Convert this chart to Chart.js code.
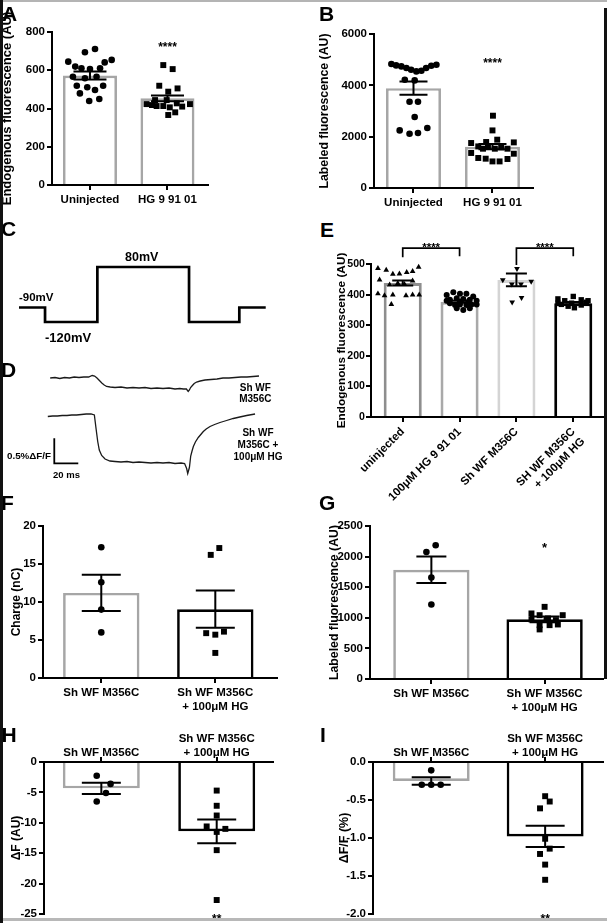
<!DOCTYPE html>
<html><head><meta charset="utf-8">
<script src="https://cdn.jsdelivr.net/npm/chart.js"></script>
<style>
html,body{margin:0;padding:0;background:#fff;}
#fig{position:relative;width:607px;height:923px;overflow:hidden;background:#fff;font-family:"Liberation Sans",Arial,Helvetica,sans-serif;font-weight:bold;color:#000;}
#fig canvas{position:absolute;}
.t{position:absolute;white-space:nowrap;line-height:1;}
.fr{position:absolute;}
</style></head><body><div id="fig"></div>
<script>
// ================= DATA =================
// Panel A
const catsAB = ['Uninjected', 'HG 9 91 01'];
const yTicksA = [0, 200, 400, 600, 800];
const aMeans = [572, 453];
const aSems = [21, 15];
const aUninjected = [645, 694, 711, 641, 654, 619, 610, 606, 610, 566, 558, 566, 519, 511, 519, 479, 497, 439, 450];
const aUninjectedJitter = [-0.28, -0.065, 0.065, 0.19, 0.28, -0.19, -0.11, 0, 0.13, -0.22, -0.065, 0.085, -0.17, -0.035, 0.17, -0.13, 0.065, -0.01, 0.12];
const aHG = [627, 606, 519, 488, 505, 423, 418, 413, 413, 406, 427, 410, 423, 444, 444, 380, 366];
const aHGJitter = [-0.054, 0.067, -0.106, 0.01, 0.13, -0.27, -0.2, -0.14, -0.054, 0.03, 0.12, 0.19, 0.29, -0.01, -0.16, 0.1, 0.01];
// Panel B
const yTicksB = [0, 2000, 4000, 6000];
const bMeans = [3890, 1610];
const bSems = [260, 100];
const bUninjected = [4831, 4777, 4738, 4675, 4609, 4543, 4570, 4675, 4765, 4804, 4219, 4192, 3362, 3362, 2766, 2244, 2116, 2143, 2338];
const bUninjectedJitter = [-0.28, -0.22, -0.154, -0.09, -0.03, 0.036, 0.1, 0.16, 0.225, 0.29, -0.11, 0.015, -0.05, 0.057, 0.015, -0.175, -0.05, 0.057, 0.175];
const bHG = [2817, 2244, 1753, 1792, 1883, 1777, 1621, 1531, 1597, 1531, 1582, 1531, 1364, 1169, 1142, 1036, 1036, 1130, 1336];
const bHGJitter = [0.006, 0, -0.27, -0.08, 0.06, 0.27, -0.18, -0.12, -0.057, 0.03, 0.11, 0.19, -0.27, -0.18, -0.086, 0, 0.09, 0.19, 0.27];
// Panel C (voltage protocol)
const protocolTimeMs = [0, 21.7, 21.7, 65.3, 65.3, 141.7, 141.7, 183.6, 183.6, 205.6];
const protocolMv = [-90, -90, -120, -120, 80, 80, -120, -120, -90, -90];
// Panel D (fluorescence traces, % dF/F)
const traceTopMs = [26, 30, 34, 38, 42, 46, 50, 54, 58, 61, 63, 65, 67, 69, 71, 73, 76, 80, 85, 90, 95, 100, 105, 110, 115, 120, 125, 130, 134, 137, 139.5, 141, 142, 143, 144.5, 146, 148, 151, 155, 160, 165, 170, 175, 180, 185, 190, 195, 200];
const traceTopPct = [0.00, 0.01, -0.01, 0.01, 0.00, 0.02, 0.01, 0.02, 0.02, 0.05, 0.04, 0.00, -0.05, -0.10, -0.14, -0.17, -0.18, -0.19, -0.18, -0.20, -0.19, -0.20, -0.19, -0.21, -0.20, -0.21, -0.20, -0.22, -0.21, -0.22, -0.22, -0.27, -0.24, -0.19, -0.15, -0.11, -0.08, -0.06, -0.04, -0.03, -0.02, 0.00, 0.00, 0.01, 0.02, 0.02, 0.03, 0.04];
const traceHGMs = [24, 28, 32, 36, 40, 44, 48, 52, 56, 60, 62.8, 64.2, 65.6, 66.9, 68.9, 71.7, 75.8, 80, 85, 90, 95, 100, 105, 110, 115, 120, 125, 130, 135, 138, 139.7, 140.6, 142, 143.1, 144.2, 145.3, 147, 149.4, 151.5, 153.6, 156, 159.2, 163, 167.5, 173, 178.6, 184, 189.7, 196.7];
const traceHGPct = [-0.03, -0.02, -0.02, -0.01, -0.01, 0.00, 0.00, 0.01, 0.02, 0.02, 0.00, -0.27, -0.53, -0.70, -0.81, -0.88, -0.92, -0.93, -0.94, -0.93, -0.95, -0.94, -0.95, -0.96, -0.95, -0.96, -0.95, -0.97, -0.96, -0.97, -1.07, -1.17, -1.05, -0.82, -0.72, -0.63, -0.54, -0.45, -0.39, -0.33, -0.28, -0.23, -0.19, -0.15, -0.11, -0.07, -0.04, -0.01, 0.02];
const scaleBarMs = 20, scaleBarPct = 0.5, scaleBarAtMs = 29.4, scaleBarAtPct = -0.966;
// Panel E
const catsE = ['uninjected', '100\u03bcM HG 9 91 01', 'Sh WF M356C', ['SH WF M356C', '+ 100\u03bcM HG']];
const yTicksE = [0, 100, 200, 300, 400, 500];
const eMeans = [438, 377, 448, 372];
const eSems = [8, 4, 21, 4];
const eUninjected = [486, 480, 467, 468, 473, 476, 490, 448, 432, 437, 434, 445, 403, 397, 399, 397, 399, 399, 368];
const eUninjectedJitter = [-0.436, -0.29, -0.174, -0.058, 0.07, 0.174, 0.28, -0.407, -0.23, -0.087, 0.03, 0.174, -0.436, -0.32, -0.174, 0.058, 0.174, 0.29, -0.2];
const eHG = [399, 408, 403, 403, 394, 383, 388, 386, 383, 380, 372, 366, 368, 366, 368, 368, 355, 350, 355, 380, 377, 375];
const eHGJitter = [-0.227, -0.11, 0.007, 0.12, 0.24, -0.17, -0.05, 0.065, 0.18, 0.3, -0.17, -0.08, 0.007, 0.12, 0.21, 0.3, -0.05, 0.065, 0.18, -0.227, 0.007, 0.15];
const eSh = [485, 448, 434, 434, 443, 375, 390];
const eShJitter = [0.01, -0.24, -0.08, 0.08, 0.26, -0.075, 0.09];
const eShHG = [386, 380, 394, 383, 380, 368, 362, 357, 366, 375, 372, 372];
const eShHGJitter = [-0.27, -0.15, 0, 0.14, 0.26, -0.21, -0.09, 0.02, 0.14, 0.23, -0.27, -0.03];
// Panels F-I
const catsFGHI = ['Sh WF M356C', ['Sh WF M356C', '+ 100\u03bcM HG']];
const yTicksF = [0, 5, 10, 15, 20];
const fMeans = [11.2, 9.05];
const fSems = [2.4, 2.45];
const fSh = [17.2, 12.6, 9.0, 6.0];
const fShJitter = [0, 0, 0, 0];
const fShHG = [16.2, 17.1, 5.9, 5.7, 6.1, 3.3];
const fShHGJitter = [-0.04, 0.035, -0.08, 0, 0.076, 0];
const yTicksG = [0, 500, 1000, 1500, 2000, 2500];
const gMeans = [1785, 975];
const gSems = [218, 48];
const gSh = [2076, 2185, 1658, 1218];
const gShJitter = [-0.044, 0.038, 0, 0];
const gShHG = [1179, 1071, 1043, 1043, 989, 962, 973, 880, 880, 891, 810];
const gShHGJitter = [0, -0.116, -0.044, 0.16, 0.03, 0.1, -0.116, -0.044, 0.044, 0.117, -0.044];
const yTicksH = [-25, -20, -15, -10, -5, 0];
const hMeans = [-4.33, -11.4];
const hSems = [0.93, 1.95];
const hSh = [-2.25, -3.6, -5.1, -6.5];
const hShJitter = [-0.04, 0.08, 0.04, -0.04];
const hShHG = [-4.7, -7.2, -8.8, -10.6, -11.0, -11.5, -14.5, -22.7];
const hShHGJitter = [0, 0, 0, -0.087, 0.075, 0, 0, 0];
const yTicksI = [-2.0, -1.5, -1.0, -0.5, 0.0];
const iMeans = [-0.25, -0.98];
const iSems = [0.05, 0.14];
const iSh = [-0.11, -0.3, -0.3, -0.3];
const iShJitter = [0, -0.083, 0, 0.083];
const iShHG = [-0.45, -0.52, -0.61, -1.01, -1.14, -1.21, -1.35, -1.55];
const iShHGJitter = [0, 0.04, -0.045, 0, 0.04, -0.045, 0, 0];

// ================= RENDERING =================
const FONT = '"Liberation Sans", Arial, Helvetica, sans-serif';
Chart.defaults.font.family = FONT;
Chart.defaults.font.weight = 'bold';
Chart.defaults.font.size = 11.5;
Chart.defaults.color = '#000';
Chart.defaults.animation = false;

const fig = document.getElementById('fig');

function addCanvas(x, y, w, h) {
  const c = document.createElement('canvas');
  c.width = w; c.height = h;
  c.style.left = x + 'px'; c.style.top = y + 'px';
  c.style.width = w + 'px'; c.style.height = h + 'px';
  fig.appendChild(c);
  return c;
}
function addText(str, x, baseline, size, align) {
  const d = document.createElement('div');
  d.className = 't';
  d.textContent = str;
  d.style.fontSize = size + 'px';
  d.style.left = x + 'px';
  d.style.top = (baseline - 0.8465 * size) + 'px';
  if (align === 'center') d.style.transform = 'translateX(-50%)';
  if (align === 'right') d.style.transform = 'translateX(-100%)';
  fig.appendChild(d);
}
function addRect(x, y, w, h, color) {
  const d = document.createElement('div');
  d.className = 'fr';
  d.style.left = x + 'px'; d.style.top = y + 'px';
  d.style.width = w + 'px'; d.style.height = h + 'px';
  d.style.background = color;
  fig.appendChild(d);
}

const annotate = {
  id: 'annotate',
  afterDatasetsDraw(chart, args, o) {
    const ctx = chart.ctx, x = chart.scales.x, y = chart.scales.y;
    ctx.save();
    ctx.strokeStyle = '#000'; ctx.fillStyle = '#000';
    if (o.means) {
      ctx.lineWidth = 2;
      const half = o.capPx / 2;
      o.means.forEach((m, i) => {
        const px = x.getPixelForValue(i);
        const yHi = y.getPixelForValue(m + o.sems[i]);
        const yLo = y.getPixelForValue(m - o.sems[i]);
        ctx.beginPath();
        ctx.moveTo(px, yHi); ctx.lineTo(px, yLo);
        ctx.moveTo(px - half, yHi); ctx.lineTo(px + half, yHi);
        ctx.moveTo(px - half, yLo); ctx.lineTo(px + half, yLo);
        ctx.stroke();
      });
    }
    (o.brackets || []).forEach(b => {
      ctx.lineWidth = 1.7;
      const x0 = x.getPixelForValue(b.i0), x1 = x.getPixelForValue(b.i1), yt = y.getPixelForValue(b.top);
      ctx.beginPath();
      ctx.moveTo(x0, y.getPixelForValue(b.leftEnd)); ctx.lineTo(x0, yt);
      ctx.lineTo(x1, yt); ctx.lineTo(x1, y.getPixelForValue(b.rightEnd));
      ctx.stroke();
    });
    (o.stars || []).forEach(s => {
      ctx.font = 'bold ' + s.size + 'px ' + FONT;
      ctx.textAlign = 'center'; ctx.textBaseline = 'alphabetic';
      ctx.fillText(s.text, x.getPixelForValue(s.i), y.getPixelForValue(s.v));
    });
    ctx.restore();
  }
};

function barPanel(p) {
  const yW = p.area.l - p.left;
  const top = p.xPos === 'top' ? p.area.t - p.xH - p.padT : p.area.t - p.padT;
  const w = p.area.r + p.padR - p.left;
  const h = p.padT + p.xH + (p.area.b - p.area.t) + p.padB;
  const canvas = addCanvas(p.left, top, w, h);
  const datasets = [];
  p.groups.forEach((g, i) => {
    datasets.push({
      type: 'scatter', data: g.values.map((v, k) => ({x: i + g.offsets[k], y: v})),
      pointStyle: g.style, pointRotation: g.rotation || 0, pointRadius: g.radius,
      backgroundColor: '#000', borderColor: '#000', borderWidth: 0, clip: false, order: 1
    });
  });
  datasets.push({
    type: 'bar', data: p.means.map((m, i) => ({x: i, y: m})),
    backgroundColor: '#fff', borderColor: p.barColors, borderWidth: p.barBorder,
    borderSkipped: 'start', barPercentage: p.barPct, categoryPercentage: 1, order: 2
  });
  const gridOpts = {display: true, drawOnChartArea: false, drawTicks: true, tickLength: 5, color: '#000', lineWidth: 2, offset: false};
  const xPad = p.xTickPad !== undefined ? p.xTickPad : 3;
  const yPad = p.yTickPad !== undefined ? p.yTickPad : 2;
  new Chart(canvas, {
    type: 'bar',
    data: {datasets},
    options: {
      responsive: false, animation: false, events: [],
      layout: {padding: {left: 0, right: p.padR, top: p.padT, bottom: p.padB}},
      plugins: {
        legend: {display: false}, tooltip: {enabled: false},
        annotate: {means: p.means, sems: p.sems, capPx: p.capPx, stars: p.stars, brackets: p.brackets}
      },
      scales: {
        x: {
          type: 'linear', position: p.xPos, min: p.xMin, max: p.xMax, offset: false, z: 1,
          afterBuildTicks: s => { s.ticks = p.labels.map((_, i) => ({value: i})); },
          afterFit: s => { s.height = p.xH; },
          ticks: {callback: v => p.labels[v], autoSkip: false, maxRotation: p.rot || 0, minRotation: p.rot || 0, padding: xPad, color: '#000', font: {size: 11.5, weight: 'bold'}},
          grid: gridOpts,
          border: {display: true, color: '#000', width: 2}
        },
        y: {
          type: 'linear', min: p.yTicks[0], max: p.yTicks[p.yTicks.length - 1], z: 1,
          afterBuildTicks: s => { s.ticks = p.yTicks.map(v => ({value: v})); },
          afterFit: s => { s.width = yW; },
          ticks: {callback: p.yFmt, padding: yPad, color: '#000', font: {size: p.yTickSize || 11.5, weight: 'bold'}},
          grid: gridOpts,
          border: {display: true, color: '#000', width: 2},
          title: {display: true, text: p.yTitle, color: '#000', padding: 0, font: {size: p.titleSize, weight: 'bold'}}
        }
      }
    },
    plugins: [annotate]
  });
}

const intFmt = v => String(v);
const dec1 = v => Number(v).toFixed(1);
const GRAY = '#a6a6a6';

// ---- A ----
barPanel({
  left: 0, area: {l: 52, r: 208, t: 32, b: 185}, padT: 25, padB: 0, padR: 5, xPos: 'bottom', xH: 30,
  xMin: -0.49, xMax: 1.523, labels: catsAB, yTicks: yTicksA, yFmt: intFmt,
  yTitle: 'Endogenous fluorescence (AU)', titleSize: 13,
  means: aMeans, sems: aSems, barColors: [GRAY, GRAY], barBorder: 2.7, barPct: 0.697, capPx: 33,
  groups: [{values: aUninjected, offsets: aUninjectedJitter, style: 'circle', radius: 3.3},
           {values: aHG, offsets: aHGJitter, style: 'rect', radius: 4.2}],
  stars: [{i: 1, v: 700, text: '****', size: 12}]
});
// ---- B ----
barPanel({
  left: 317, area: {l: 374, r: 533, t: 34, b: 188}, padT: 25, padB: 0, padR: 5, xPos: 'bottom', xH: 30,
  xMin: -0.5, xMax: 1.513, labels: catsAB, yTicks: yTicksB, yFmt: intFmt,
  yTitle: 'Labeled fluorescence (AU)', titleSize: 12.3,
  means: bMeans, sems: bSems, barColors: [GRAY, GRAY], barBorder: 2.7, barPct: 0.696, capPx: 28,
  groups: [{values: bUninjected, offsets: bUninjectedJitter, style: 'circle', radius: 3.3},
           {values: bHG, offsets: bHGJitter, style: 'rect', radius: 4.2}],
  stars: [{i: 1, v: 4700, text: '****', size: 12}]
});
// ---- E ----
barPanel({
  left: 335, area: {l: 371, r: 605, t: 264, b: 417}, padT: 30, padB: 0, padR: 2, xPos: 'bottom', xH: 95, rot: 45,
  xMin: -0.558, xMax: 3.523, labels: catsE, yTicks: yTicksE, yFmt: intFmt, yTickSize: 10.6, yTickPad: 1,
  yTitle: 'Endogenous fluorescence (AU)', titleSize: 11.8,
  means: eMeans, sems: eSems, barColors: ['#8e8e8e', '#a9a9a9', '#d4d4d4', '#000'], barBorder: 3, barPct: 0.67, capPx: 21,
  groups: [{values: eUninjected, offsets: eUninjectedJitter, style: 'triangle', radius: 3.3},
           {values: eHG, offsets: eHGJitter, style: 'circle', radius: 3},
           {values: eSh, offsets: eShJitter, style: 'triangle', rotation: 180, radius: 3.3},
           {values: eShHG, offsets: eShHGJitter, style: 'rect', radius: 3.8}],
  brackets: [{i0: 0, i1: 1, top: 552, leftEnd: 522, rightEnd: 525},
             {i0: 2, i1: 3, top: 552, leftEnd: 497, rightEnd: 525}],
  stars: [{i: 0.5, v: 544, text: '****', size: 11.5}, {i: 2.5, v: 544, text: '****', size: 11.5}]
});
// ---- F ----
barPanel({
  left: 9, area: {l: 43, r: 277, t: 526, b: 678}, padT: 12, padB: 0, padR: 5, xPos: 'bottom', xH: 40,
  xMin: -0.511, xMax: 1.541, labels: catsFGHI, yTicks: yTicksF, yFmt: intFmt,
  yTitle: 'Charge (nC)', titleSize: 12,
  means: fMeans, sems: fSems, barColors: [GRAY, '#000'], barBorder: 2.7, barPct: 0.67, capPx: 39,
  groups: [{values: fSh, offsets: fShJitter, style: 'circle', radius: 3.3},
           {values: fShHG, offsets: fShHGJitter, style: 'rect', radius: 4.2}]
});
// ---- G ----
barPanel({
  left: 327, area: {l: 370, r: 605, t: 526, b: 679}, padT: 12, padB: 0, padR: 2, xPos: 'bottom', xH: 40,
  xMin: -0.542, xMax: 1.514, labels: catsFGHI, yTicks: yTicksG, yFmt: intFmt,
  yTitle: 'Labeled fluorescence (AU)', titleSize: 12.3,
  means: gMeans, sems: gSems, barColors: [GRAY, '#000'], barBorder: 2.7, barPct: 0.674, capPx: 30,
  groups: [{values: gSh, offsets: gShJitter, style: 'circle', radius: 3.3},
           {values: gShHG, offsets: gShHGJitter, style: 'rect', radius: 4.2}],
  stars: [{i: 1, v: 2078, text: '*', size: 13}]
});
// ---- H ----
barPanel({
  left: 9, area: {l: 44, r: 273, t: 762, b: 914}, padT: 0, padB: 10, padR: 5, xPos: 'top', xH: 38, xTickPad: -2.5,
  xMin: -0.497, xMax: 1.488, labels: catsFGHI, yTicks: yTicksH, yFmt: intFmt,
  yTitle: '\u0394F (AU)', titleSize: 12,
  means: hMeans, sems: hSems, barColors: [GRAY, '#000'], barBorder: 2.7, barPct: 0.667, capPx: 39,
  groups: [{values: hSh, offsets: hShJitter, style: 'circle', radius: 3.3},
           {values: hShHG, offsets: hShHGJitter, style: 'rect', radius: 4.2}],
  stars: [{i: 1, v: -26.5, text: '**', size: 12}]
});
// ---- I ----
barPanel({
  left: 337, area: {l: 373, r: 605, t: 762, b: 914}, padT: 0, padB: 10, padR: 2, xPos: 'top', xH: 38, xTickPad: -2.5,
  xMin: -0.511, xMax: 1.506, labels: catsFGHI, yTicks: yTicksI, yFmt: dec1,
  yTitle: '\u0394F/F (%)', titleSize: 12.5,
  means: iMeans, sems: iSems, barColors: [GRAY, '#000'], barBorder: 2.7, barPct: 0.675, capPx: 39,
  groups: [{values: iSh, offsets: iShJitter, style: 'circle', radius: 3.3},
           {values: iShHG, offsets: iShHGJitter, style: 'rect', radius: 4.2}],
  stars: [{i: 1, v: -2.12, text: '**', size: 12}]
});

// ---- C: schematic voltage protocol (levels not drawn to scale) ----
const C_LEVEL_POS = [[-120, 0], [-90, 0.264], [80, 1]];
class SchematicScale extends Chart.LinearScale {
  getPixelForValue(value) {
    const k = C_LEVEL_POS;
    let i = 0;
    while (i < k.length - 2 && value > k[i + 1][0]) i++;
    const f = k[i][1] + (value - k[i][0]) / (k[i + 1][0] - k[i][0]) * (k[i + 1][1] - k[i][1]);
    return this.getPixelForDecimal(f);
  }
}
SchematicScale.id = 'schematic';
SchematicScale.defaults = Chart.LinearScale.defaults;
Chart.register(SchematicScale);

const T_MAX = 217.5; // 261 px drawing width for the time axis shared by C and D
function lineCanvas(top, height, padT, padB, yScale, datasets) {
  const c = addCanvas(0, top, 290, height);
  new Chart(c, {
    type: 'line',
    data: {datasets},
    options: {
      responsive: false, animation: false, events: [],
      layout: {padding: {left: 19, right: 10, top: padT, bottom: padB}},
      plugins: {legend: {display: false}, tooltip: {enabled: false}},
      scales: {x: {type: 'linear', min: 0, max: T_MAX, display: false}, y: Object.assign({display: false}, yScale)}
    }
  });
}
lineCanvas(250, 90, 17, 18, {type: 'schematic', min: -120, max: 80}, [{
  data: protocolTimeMs.map((t, i) => ({x: t, y: protocolMv[i]})),
  borderColor: '#000', borderWidth: 2.7, pointRadius: 0, tension: 0, clip: false,
  borderJoinStyle: 'miter', borderCapStyle: 'butt'
}]);
lineCanvas(360, 40, 0, 0, {type: 'linear', min: -0.44, max: 0.36}, [{
  data: traceTopMs.map((t, i) => ({x: t, y: traceTopPct[i]})),
  borderColor: '#1a1a1a', borderWidth: 1.3, pointRadius: 0, tension: 0, clip: false
}]);
lineCanvas(400, 85, 0, 0, {type: 'linear', min: -1.4, max: 0.3}, [{
  data: traceHGMs.map((t, i) => ({x: t, y: traceHGPct[i]})),
  borderColor: '#1a1a1a', borderWidth: 1.3, pointRadius: 0, tension: 0, clip: false
}, {
  data: [{x: scaleBarAtMs, y: scaleBarAtPct + scaleBarPct}, {x: scaleBarAtMs, y: scaleBarAtPct}, {x: scaleBarAtMs + scaleBarMs, y: scaleBarAtPct}],
  borderColor: '#000', borderWidth: 1.8, pointRadius: 0, tension: 0, clip: false, borderCapStyle: 'butt', borderJoinStyle: 'miter'
}]);

// ---- texts ----
addText('-90mV', 19, 302, 11.5);
addText('80mV', 125, 261.7, 12.5);
addText('-120mV', 45, 342.3, 13);
addText('Sh WF', 255.3, 391, 10, 'center');
addText('M356C', 255.3, 402, 10, 'center');
addText('Sh WF', 258, 436, 10, 'center');
addText('M356C +', 258, 448, 10, 'center');
addText('100\u03bcM HG', 258, 460, 10, 'center');
addText('0.5%\u0394F/F', 7, 459, 9.8);
addText('20 ms', 53, 478, 9.5);

// panel letters
addText('A', 2, 20.7, 21);
addText('B', 319, 20.7, 21);
addText('C', 1, 236, 21);
addText('D', 1, 376.7, 21);
addText('E', 320, 236.7, 21);
addText('F', 1, 510, 21);
addText('G', 319, 510, 21);
addText('H', 1.5, 741.7, 21);
addText('I', 320, 742, 21);

// frame
addRect(0, 0, 607, 2, '#b4b4b4');
addRect(0, 918, 607, 3, '#b8b8b8');
addRect(0, 0, 2.5, 923, '#111');
addRect(604, 8, 3, 671, '#111');
</script></body></html>
